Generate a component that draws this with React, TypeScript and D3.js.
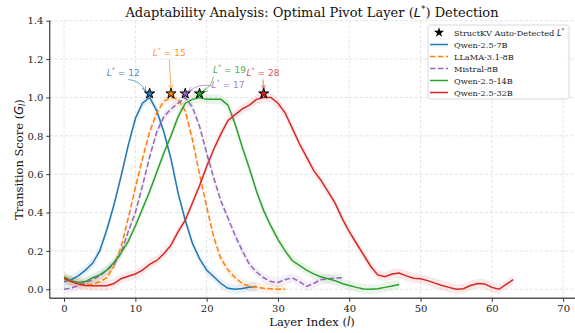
import React, { useRef, useEffect } from 'react';
import * as d3 from 'd3';

const qwen7b = [0.04, 0.05, 0.07, 0.1, 0.135, 0.2, 0.31, 0.44, 0.59, 0.75, 0.89, 0.97, 1.0, 0.93, 0.82, 0.68, 0.5, 0.36, 0.24, 0.16, 0.1, 0.065, 0.03, 0.005, 0.0, 0.004, 0.01, 0.015];
const llama8b = [0.055, 0.04, 0.03, 0.025, 0.025, 0.04, 0.06, 0.12, 0.22, 0.37, 0.53, 0.68, 0.82, 0.92, 0.98, 1.0, 0.99, 0.93, 0.78, 0.6, 0.43, 0.27, 0.16, 0.1, 0.06, 0.03, 0.015, 0.01, 0.005, 0.003, 0.0, 0.0];
const mistral8b = [0.0, 0.005, 0.02, 0.035, 0.05, 0.07, 0.1, 0.13, 0.19, 0.3, 0.4, 0.54, 0.69, 0.82, 0.9, 0.94, 0.97, 1.0, 0.95, 0.85, 0.71, 0.58, 0.46, 0.37, 0.28, 0.2, 0.13, 0.09, 0.06, 0.04, 0.035, 0.05, 0.06, 0.04, 0.015, 0.03, 0.05, 0.055, 0.058, 0.06];
const qwen14b = [0.065, 0.045, 0.035, 0.04, 0.06, 0.075, 0.1, 0.14, 0.19, 0.25, 0.33, 0.42, 0.51, 0.61, 0.71, 0.8, 0.9, 0.97, 0.99, 1.0, 0.99, 0.99, 0.99, 0.96, 0.86, 0.74, 0.63, 0.51, 0.41, 0.33, 0.26, 0.2, 0.15, 0.125, 0.1, 0.08, 0.065, 0.055, 0.045, 0.03, 0.02, 0.01, 0.002, 0.0, 0.003, 0.01, 0.017, 0.025];
const qwen32b = [0.057, 0.04, 0.028, 0.02, 0.018, 0.018, 0.018, 0.03, 0.055, 0.068, 0.08, 0.1, 0.13, 0.15, 0.185, 0.23, 0.3, 0.36, 0.45, 0.54, 0.64, 0.73, 0.81, 0.88, 0.91, 0.94, 0.96, 0.99, 1.0, 1.0, 0.97, 0.92, 0.84, 0.76, 0.69, 0.62, 0.57, 0.51, 0.45, 0.37, 0.3, 0.24, 0.18, 0.12, 0.075, 0.065, 0.08, 0.085, 0.07, 0.058, 0.055, 0.045, 0.032, 0.02, 0.01, 0.0, 0.003, 0.02, 0.03, 0.028, 0.01, 0.0, 0.025, 0.05];

const seriesNames = ['Qwen-2.5-7B', 'LLaMA-3.1-8B', 'Mistral-8B', 'Qwen-2.5-14B', 'Qwen-2.5-32B'];
const seriesValues = [qwen7b, llama8b, mistral8b, qwen14b, qwen32b];
const seriesColors = ['#1f77b4', '#ff7f0e', '#9467bd', '#2ca02c', '#d62728'];
const seriesDashed = [false, true, true, false, false];

// detected pivot layers and label positions (data units)
const pivotLayers = [12, 15, 17, 19, 28];
const starScore = 1.02;
const labelLayer = [8.3, 14.75, 23.0, 23.2, 27.9];
const labelScore = [1.13, 1.235, 1.07, 1.147, 1.13];
const arrowBend = [-0.3, 0, 0.25, -0.25, 0];

const xTicks = [0, 10, 20, 30, 40, 50, 60, 70];
const yTicks = [0, 0.2, 0.4, 0.6, 0.8, 1.0, 1.2, 1.4];

const App: React.FC = () => {
  const svgRef = useRef<SVGSVGElement>(null);

  useEffect(() => {
    const svg = d3.select(svgRef.current);
    svg.selectAll('*').remove();

    const serif = 'DejaVu Serif, serif';
    const sans = 'DejaVu Sans, sans-serif';

    const x = d3.scaleLinear().domain([-2, 72]).range([49.8, 577.4]);
    const y = d3.scaleLinear().domain([-0.047, 1.4]).range([298.3, 20.7]);

    const defs = svg.append('defs');
    seriesColors.forEach((c, i) => {
      defs.append('marker')
        .attr('id', `arrow-${i}`)
        .attr('viewBox', '0 0 10 10')
        .attr('refX', 10)
        .attr('refY', 5)
        .attr('markerWidth', 5)
        .attr('markerHeight', 5)
        .attr('orient', 'auto-start-reverse')
        .attr('markerUnits', 'userSpaceOnUse')
        .append('path')
        .attr('d', 'M0,1 L10,5 L0,9')
        .attr('fill', 'none')
        .attr('stroke', c)
        .attr('stroke-width', 1.2);
    });

    // grid
    const grid = svg.append('g');
    grid.selectAll('line.gx')
      .data(xTicks)
      .join('line')
      .attr('x1', d => x(d)).attr('x2', d => x(d))
      .attr('y1', y.range()[0]).attr('y2', y.range()[1])
      .attr('stroke', '#dcdcdc').attr('stroke-width', 0.8)
      .attr('stroke-dasharray', '3,2');
    grid.selectAll('line.gy')
      .data(yTicks)
      .join('line')
      .attr('x1', x.range()[0]).attr('x2', x.range()[1])
      .attr('y1', d => y(d)).attr('y2', d => y(d))
      .attr('stroke', '#dcdcdc').attr('stroke-width', 0.8)
      .attr('stroke-dasharray', '3,2');

    const band = 0.025;
    const area = d3.area<number>()
      .x((d, i) => x(i))
      .y0(d => y(d - band))
      .y1(d => y(d + band));
    const line = d3.line<number>()
      .x((d, i) => x(i))
      .y(d => y(d));

    seriesValues.forEach((vals, i) => {
      svg.append('path')
        .datum(vals)
        .attr('d', area)
        .attr('fill', seriesColors[i])
        .attr('fill-opacity', 0.1);
    });
    seriesValues.forEach((vals, i) => {
      svg.append('path')
        .datum(vals)
        .attr('d', line)
        .attr('fill', 'none')
        .attr('stroke', seriesColors[i])
        .attr('stroke-width', 1.5)
        .attr('stroke-dasharray', seriesDashed[i] ? '5.5,2.5' : null);
    });

    // annotations
    pivotLayers.forEach((l, i) => {
      const tx = x(labelLayer[i]);
      const ty = y(labelScore[i]);
      const sx = x(l);
      const sy = y(starScore);
      const label = svg.append('text')
        .attr('x', tx).attr('y', ty + 3.5)
        .attr('text-anchor', 'middle')
        .attr('font-family', sans)
        .attr('font-size', 9)
        .attr('fill', seriesColors[i])
        .attr('fill-opacity', 0.85);
      label.append('tspan').attr('font-style', 'italic').text('L');
      label.append('tspan').attr('dy', -4).attr('font-size', 6.5).text('*');
      label.append('tspan').attr('dy', 4).text(` = ${l}`);

      let x0 = tx;
      let y0 = ty + 7;
      if (Math.abs(sx - tx) > 20) {
        x0 = tx + (sx > tx ? 5 : -16);
        y0 = ty + (sy - ty > 14 ? 7 : 2);
      }
      const x1 = sx + (Math.abs(sx - x0) < 3 ? 0 : (sx > x0 ? -4 : 3));
      const y1 = sy - (Math.abs(sx - x0) < 3 ? 4 : 2);
      const mx = (x0 + x1) / 2;
      const my = (y0 + y1) / 2;
      const dx = x1 - x0;
      const dy = y1 - y0;
      const cx = mx - dy * arrowBend[i];
      const cy = my + dx * arrowBend[i];
      svg.append('path')
        .attr('d', `M${x0},${y0} Q${cx},${cy} ${x1},${y1}`)
        .attr('fill', 'none')
        .attr('stroke', seriesColors[i])
        .attr('stroke-opacity', 0.7)
        .attr('stroke-width', 0.9)
        .attr('marker-end', `url(#arrow-${i})`);
    });

    // stars
    const star = d3.symbol().type(d3.symbolStar).size(32);
    svg.selectAll('path.star')
      .data(pivotLayers)
      .join('path')
      .attr('transform', d => `translate(${x(d)},${y(starScore)})`)
      .attr('d', star)
      .attr('fill', (d, i) => seriesColors[i])
      .attr('stroke', 'black')
      .attr('stroke-width', 1);

    // axes
    const xAxis = svg.append('g')
      .attr('transform', `translate(0,${y.range()[0]})`)
      .call(d3.axisBottom(x).tickValues(xTicks).tickSize(3.5).tickPadding(3).tickFormat(d3.format('d')));
    xAxis.select('.domain').attr('stroke', '#555').attr('stroke-width', 1.6)
      .attr('d', `M${x.range()[0]},0H${x.range()[1]}`);
    const yAxis = svg.append('g')
      .attr('transform', `translate(${x.range()[0]},0)`)
      .call(d3.axisLeft(y).tickValues(yTicks).tickSize(3.5).tickPadding(3).tickFormat(d3.format('.1f')));
    yAxis.select('.domain').attr('stroke', '#111').attr('stroke-width', 1)
      .attr('d', `M0,${y.range()[0]}V${y.range()[1]}`);
    [xAxis, yAxis].forEach(a => {
      a.selectAll('text').attr('font-family', serif).attr('font-size', 10).attr('fill', '#222');
      a.selectAll('.tick line').attr('stroke', '#333');
    });

    // labels
    svg.append('text')
      .attr('x', 312).attr('y', 17)
      .attr('text-anchor', 'middle')
      .attr('font-family', serif).attr('font-size', 13).attr('fill', '#111')
      .call(t => {
        t.append('tspan').text('Adaptability Analysis: Optimal Pivot Layer (');
        t.append('tspan').attr('font-family', sans).attr('font-style', 'italic').text('L');
        t.append('tspan').attr('font-family', sans).attr('dy', -5).attr('font-size', 9).text('*');
        t.append('tspan').attr('dy', 5).text(') Detection');
      });

    svg.append('text')
      .attr('x', 312).attr('y', 326)
      .attr('text-anchor', 'middle')
      .attr('font-family', serif).attr('font-size', 11.5).attr('fill', '#111')
      .call(t => {
        t.append('tspan').text('Layer Index (');
        t.append('tspan').attr('font-family', sans).attr('font-style', 'italic').text('l');
        t.append('tspan').text(')');
      });

    svg.append('text')
      .attr('transform', `translate(23,${(y.range()[0] + y.range()[1]) / 2}) rotate(-90)`)
      .attr('text-anchor', 'middle')
      .attr('font-family', serif).attr('font-size', 11.5).attr('fill', '#111')
      .call(t => {
        t.append('tspan').text('Transition Score (');
        t.append('tspan').attr('font-family', sans).attr('font-style', 'italic').text('G');
        t.append('tspan').attr('font-family', sans).attr('font-style', 'italic').attr('font-size', 8).attr('dy', 2).text('l');
        t.append('tspan').attr('dy', -2).text(')');
      });

    // legend
    const legend = svg.append('g').attr('transform', 'translate(428,25)');
    legend.append('rect')
      .attr('width', 141).attr('height', 74)
      .attr('rx', 2.5)
      .attr('fill', 'white').attr('fill-opacity', 0.85)
      .attr('stroke', '#d0d0d0').attr('stroke-width', 0.8);
    const rowY = (i: number) => 7.5 + i * 12;
    legend.append('path')
      .attr('transform', `translate(11,${rowY(0)})`)
      .attr('d', d3.symbol().type(d3.symbolStar).size(32)())
      .attr('fill', 'black');
    const first = legend.append('text')
      .attr('x', 26).attr('y', rowY(0) + 3)
      .attr('font-family', serif).attr('font-size', 8.2).attr('fill', '#222');
    first.append('tspan').text('StructKV Auto-Detected ');
    first.append('tspan').attr('font-family', sans).attr('font-style', 'italic').text('L');
    first.append('tspan').attr('font-family', sans).attr('dy', -3.5).attr('font-size', 5.5).text('*');
    seriesNames.forEach((name, i) => {
      legend.append('line')
        .attr('x1', 2).attr('x2', 20)
        .attr('y1', rowY(i + 1)).attr('y2', rowY(i + 1))
        .attr('stroke', seriesColors[i])
        .attr('stroke-width', 1.5)
        .attr('stroke-dasharray', seriesDashed[i] ? '5.5,2.5' : null);
      legend.append('text')
        .attr('x', 26).attr('y', rowY(i + 1) + 3)
        .attr('font-family', serif).attr('font-size', 8.2).attr('fill', '#222')
        .text(name);
    });
  }, []);

  return (
    <svg ref={svgRef} width={575} height={333}
      style={{ position: 'absolute', left: 0, top: 0, background: 'white' }} />
  );
};

export default App;
